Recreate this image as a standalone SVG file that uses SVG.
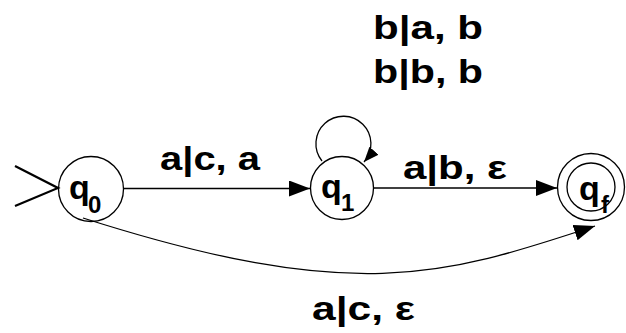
<svg xmlns="http://www.w3.org/2000/svg" width="626" height="333" viewBox="0 0 626 333">
<style>
.st{fill:none;stroke:#000;stroke-width:1.3}
.ed{fill:none;stroke:#000;stroke-width:1.3}
.lb{font-family:"Liberation Sans",Arial,sans-serif;font-weight:bold;font-size:33px;fill:#000}
.nq{font-family:"Liberation Sans",Arial,sans-serif;font-weight:bold;font-size:34px;fill:#000}
.ns{font-family:"Liberation Sans",Arial,sans-serif;font-weight:bold;font-size:24px;fill:#000}
</style>
<defs>
<marker id="ah" markerUnits="userSpaceOnUse" markerWidth="22" markerHeight="18" refX="21" refY="8" orient="auto">
<path d="M0,0 L21,8 L0,16 Z" fill="#000"/>
</marker>
<marker id="ahs" markerUnits="userSpaceOnUse" markerWidth="16" markerHeight="14" refX="15" refY="6" orient="auto">
<path d="M0,0 L15,6 L0,12 Z" fill="#000"/>
</marker>
</defs>
<g id="connectors">
<polyline class="ed" points="15,166 58,188 15,206" style="stroke-width:2.2"/>
<line class="ed" x1="124" y1="188.5" x2="310" y2="188.5" marker-end="url(#ah)"/>
<line class="ed" x1="374" y1="188" x2="557" y2="188" marker-end="url(#ah)"/>
<path class="ed" d="M322,161 A27.5,27.5 0 1 1 364,162" marker-end="url(#ahs)"/>
<path class="ed" d="M83,218 C353,304 441,277 595,226" marker-end="url(#ah)"/>
<text class="lb" x="160" y="170" textLength="100" lengthAdjust="spacingAndGlyphs">a|c, a</text>
<text class="lb" x="403" y="179" textLength="104" lengthAdjust="spacingAndGlyphs">a|b, ε</text>
<text class="lb" x="373" y="39" textLength="110" lengthAdjust="spacingAndGlyphs">b|a, b</text>
<text class="lb" x="373" y="83" textLength="110" lengthAdjust="spacingAndGlyphs">b|b, b</text>
<text class="lb" x="312" y="320" textLength="103" lengthAdjust="spacingAndGlyphs">a|c, ε</text>
</g>
<g id="q0">
<circle class="st" cx="91" cy="189" r="32.5"/>
<text class="nq" x="69" y="199">q</text><text class="ns" x="88" y="213">0</text>
</g>
<g id="q1">
<circle class="st" cx="342" cy="188" r="31.5"/>
<text class="nq" x="321" y="198">q</text><text class="ns" x="341" y="211">1</text>
</g>
<g id="qf">
<circle class="st" cx="591" cy="187" r="33.5"/>
<circle class="st" cx="591" cy="187" r="24"/>
<text class="nq" x="579" y="200">q</text><text class="ns" x="601" y="213">f</text>
</g>
</svg>
